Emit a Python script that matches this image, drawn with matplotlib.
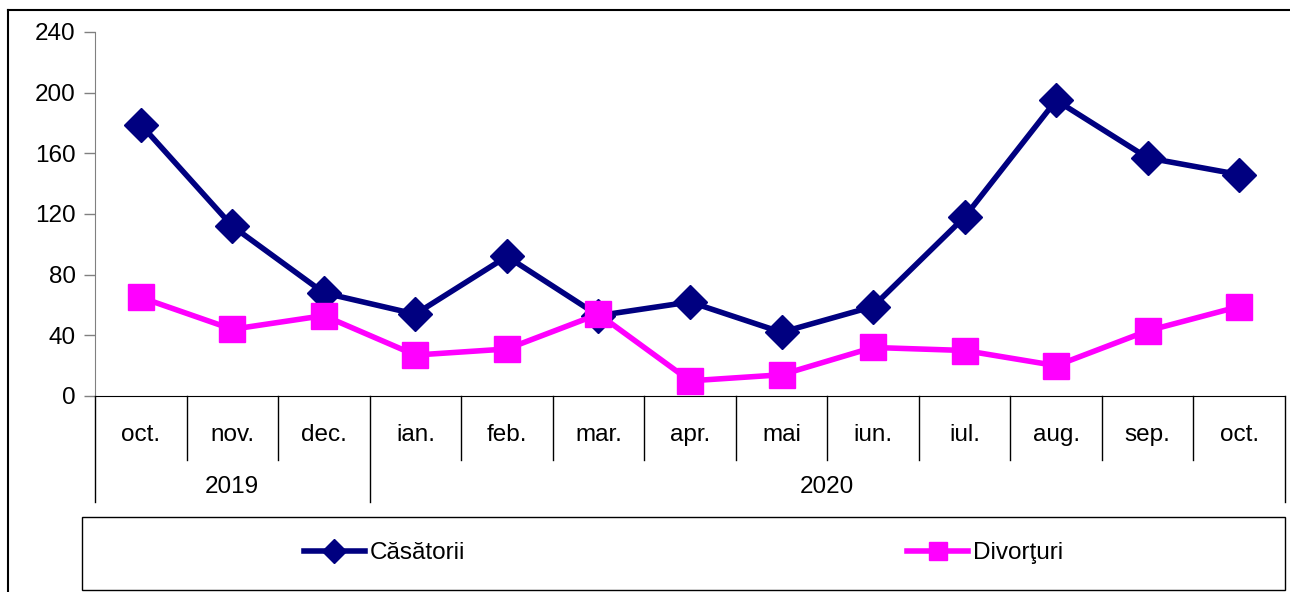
import matplotlib
import matplotlib.pyplot as plt
from matplotlib.lines import Line2D
from matplotlib.patches import Rectangle

matplotlib.use("Agg")

plt.rcParams["font.family"] = ["Liberation Sans", "DejaVu Sans"]

months = ["oct.", "nov.", "dec.", "ian.", "feb.", "mar.", "apr.", "mai", "iun.",
          "iul.", "aug.", "sep.", "oct."]
years = ["2019", "2020"]
year_spans = [(0, 2), (3, 12)]
casatorii = [179, 112, 68, 54, 92, 53, 62, 42, 59, 118, 195, 157, 146]
divorturi = [65, 44, 53, 27, 31, 54, 10, 14, 32, 30, 20, 43, 59]
yticks = [0, 40, 80, 120, 160, 200, 240]

W, H = 1290, 592
FS = 17.5
fig = plt.figure(figsize=(W / 100, H / 100), dpi=100)
ax = fig.add_axes([95 / W, 1 - 396 / H, 1190 / W, 364 / H])

x = list(range(len(months)))
ax.plot(x, casatorii, color="#000080", lw=4, marker="D", ms=17,
        label="Căsătorii", zorder=3, clip_on=False)
ax.plot(x, divorturi, color="#FF00FF", lw=4, marker="s", ms=19,
        label="Divorţuri", zorder=3, clip_on=False)

ax.set_xlim(-0.5, len(months) - 0.5)
ax.set_ylim(0, 240)
ax.set_yticks(yticks)
ax.set_xticks([])
ax.tick_params(axis="y", length=8, width=1, color="#808080", labelsize=FS, pad=6)
for s in ["top", "right"]:
    ax.spines[s].set_visible(False)
ax.spines["left"].set_color("#808080")
ax.spines["bottom"].set_color("black")

tr = ax.get_xaxis_transform()
y_month = (396 - 460) / 364
y_year = (396 - 502) / 364
# category separators
for i in range(len(months) + 1):
    b = i - 0.5
    bottom = y_month
    if i == 0 or i == len(months) or any(b == s - 0.5 for s, _ in year_spans):
        bottom = y_year
    ax.add_line(Line2D([b, b], [0, bottom], transform=tr, color="black",
                       lw=1, clip_on=False))
for i, m in enumerate(months):
    ax.text(i, (396 - 435) / 364, m, transform=tr, ha="center", va="center",
            fontsize=FS)
for yr, (s, e) in zip(years, year_spans):
    ax.text((s + e) / 2, (396 - 487) / 364, yr, transform=tr, ha="center",
            va="center", fontsize=FS)

# legend box
fig.patches.append(Rectangle((82 / W, 1 - 590 / H), 1203 / W, 73 / H,
                             transform=fig.transFigure, fill=False,
                             edgecolor="black", lw=1))
fig.legend(loc="center", bbox_to_anchor=(683.5 / W, 1 - 553 / H), ncol=2,
           frameon=False, fontsize=FS, handlelength=2.5, columnspacing=18.2,
           handletextpad=0.2, markerscale=0.7)

# outer frame
fig.add_artist(Line2D([8 / W, 8 / W], [0, 1 - 10 / H], transform=fig.transFigure,
                      color="black", lw=1.5))
fig.add_artist(Line2D([8 / W, 1], [1 - 10 / H, 1 - 10 / H], transform=fig.transFigure,
                      color="black", lw=1.5))

fig.savefig("out.png", dpi=100)
